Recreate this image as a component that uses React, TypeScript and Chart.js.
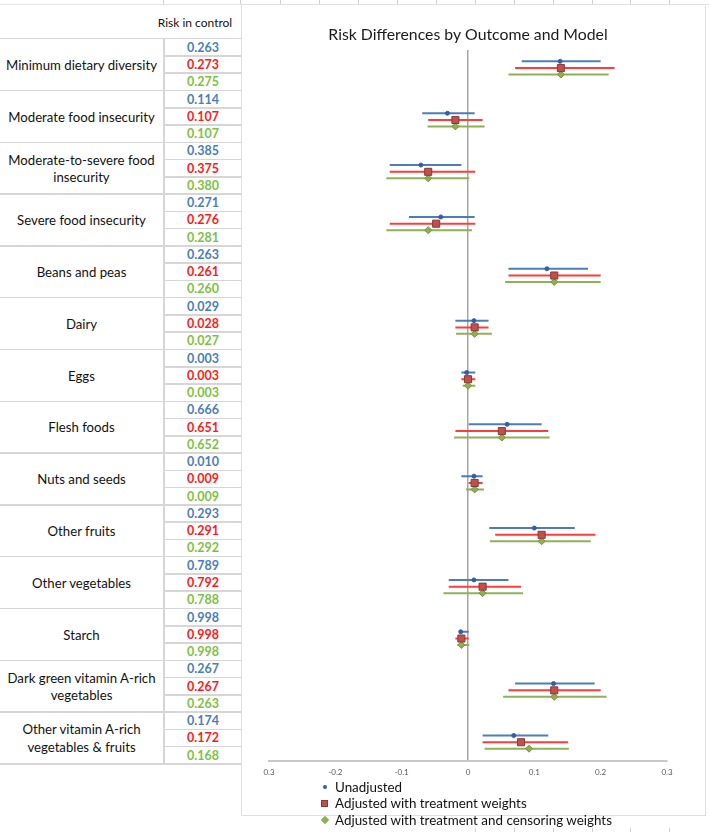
import React, { useEffect, useRef } from "react";
import { Chart, registerables } from "chart.js";

Chart.register(...registerables);

// ---------- data ----------
const outcomes = [
  "Minimum dietary diversity",
  "Moderate food insecurity",
  "Moderate-to-severe food\ninsecurity",
  "Severe food insecurity",
  "Beans and peas",
  "Dairy",
  "Eggs",
  "Flesh foods",
  "Nuts and seeds",
  "Other fruits",
  "Other vegetables",
  "Starch",
  "Dark green vitamin A-rich\nvegetables",
  "Other vitamin A-rich\nvegetables & fruits",
];

const seriesNames = [
  "Unadjusted",
  "Adjusted with treatment weights",
  "Adjusted with treatment and censoring weights",
];

// Risk in control (table)
const riskUnadjusted = [0.263, 0.114, 0.385, 0.271, 0.263, 0.029, 0.003, 0.666, 0.010, 0.293, 0.789, 0.998, 0.267, 0.174];
const riskTreatment = [0.273, 0.107, 0.375, 0.276, 0.261, 0.028, 0.003, 0.651, 0.009, 0.291, 0.792, 0.998, 0.267, 0.172];
const riskCensoring = [0.275, 0.107, 0.380, 0.281, 0.260, 0.027, 0.003, 0.652, 0.009, 0.292, 0.788, 0.998, 0.263, 0.168];

// Risk differences (estimate, lower, upper)
const unadjEst = [0.139, -0.031, -0.071, -0.041, 0.119, 0.009, -0.002, 0.059, 0.009, 0.100, 0.009, -0.011, 0.129, 0.069];
const unadjLo = [0.081, -0.069, -0.118, -0.089, 0.061, -0.019, -0.010, 0.001, -0.010, 0.032, -0.029, -0.013, 0.071, 0.022];
const unadjHi = [0.200, 0.010, -0.010, 0.010, 0.181, 0.031, 0.011, 0.111, 0.022, 0.161, 0.061, 0.001, 0.191, 0.121];

const trtEst = [0.140, -0.019, -0.060, -0.048, 0.130, 0.010, 0.000, 0.051, 0.010, 0.111, 0.022, -0.010, 0.130, 0.080];
const trtLo = [0.071, -0.060, -0.118, -0.118, 0.061, -0.019, -0.010, -0.019, 0.001, 0.041, -0.029, -0.019, 0.061, 0.022];
const trtHi = [0.221, 0.022, 0.011, 0.011, 0.200, 0.031, 0.011, 0.121, 0.022, 0.192, 0.080, 0.001, 0.200, 0.151];

const cenEst = [0.140, -0.019, -0.060, -0.060, 0.130, 0.010, 0.000, 0.051, 0.010, 0.111, 0.022, -0.010, 0.130, 0.092];
const cenLo = [0.061, -0.061, -0.123, -0.123, 0.056, -0.018, -0.008, -0.021, -0.003, 0.033, -0.037, -0.016, 0.053, 0.025];
const cenHi = [0.212, 0.025, 0.002, 0.006, 0.200, 0.036, 0.011, 0.123, 0.024, 0.185, 0.083, 0.002, 0.209, 0.152];

const tickLabels = ["0.3", "-0.2", "-0.1", "0", "0.1", "0.2", "0.3"];

// ---------- styling ----------
const FONT = "Lato, 'Open Sans', sans-serif";
const tableColors = ["#4a7ebb", "#ff1a1a", "#7cc242"];
const lineColors = ["#4a7ebb", "#ff3b3b", "#8db255"];
const markerFill = ["#2f5fa8", "#c0504d", "#8fb04e"];
const markerBorder = ["#2f5fa8", "#8c3836", "#76923c"];
const markerStyle = ["circle", "rect", "rectRot"];
const markerRadius = [2, 5, 3.5];
const rowOffsets = [-0.13, 0, 0.125];

const TABLE_TOP = 38.7;
const GROUP_H = 51.8;
const ROW_H = GROUP_H / 3;
const LABEL_W = 163;
const TABLE_R = 241;

function ForestChart() {
  const ref = useRef<HTMLCanvasElement | null>(null);
  useEffect(() => {
    if (!ref.current) return;
    const est = [unadjEst, trtEst, cenEst];
    const lo = [unadjLo, trtLo, cenLo];
    const hi = [unadjHi, trtHi, cenHi];
    const datasets: any[] = [];
    for (let s = 0; s < 3; s++) {
      datasets.push({
        type: "scatter",
        label: seriesNames[s],
        data: est[s].map((v, i) => ({ x: v, y: i + rowOffsets[s] })),
        pointStyle: markerStyle[s],
        pointRadius: markerRadius[s],
        backgroundColor: markerFill[s],
        borderColor: markerBorder[s],
        borderWidth: 1,
        order: 0,
      });
    }
    for (let s = 0; s < 3; s++) {
      for (let i = 0; i < outcomes.length; i++) {
        datasets.push({
          type: "line",
          label: "ci",
          data: [
            { x: lo[s][i], y: i + rowOffsets[s] },
            { x: hi[s][i], y: i + rowOffsets[s] },
          ],
          borderColor: lineColors[s],
          borderWidth: 2,
          pointRadius: 0,
          fill: false,
          order: 1,
        });
      }
    }
    const chart = new Chart(ref.current, {
      type: "scatter",
      data: { datasets },
      options: {
        animation: false,
        responsive: false,
        devicePixelRatio: 1,
        layout: { padding: { left: 28, right: 39, top: 0, bottom: 33 } },
        plugins: {
          legend: { display: false },
          tooltip: { enabled: false },
          title: {
            display: true,
            text: "Risk Differences by Outcome and Model",
            color: "#1a1a1a",
            font: { family: FONT, size: 15.8, weight: "normal" },
            padding: { top: 20, bottom: 6 },
          },
        },
        scales: {
          x: {
            type: "linear",
            min: -0.3,
            max: 0.3,
            ticks: {
              stepSize: 0.1,
              padding: 6,
              color: "#595959",
              font: { family: FONT, size: 8 },
              maxRotation: 0,
              autoSkip: false,
              callback: (_v: any, i: number) => tickLabels[i],
            },
            grid: {
              drawTicks: false,
              lineWidth: 1.5,
              color: (ctx: any) =>
                ctx.tick && Math.abs(ctx.tick.value) < 1e-9 ? "#a6a6a6" : "rgba(0,0,0,0)",
            },
            border: { display: true, color: "#c8c8c8", width: 2 },
          },
          y: {
            type: "linear",
            reverse: true,
            min: -0.35,
            max: 13.37,
            display: false,
          },
        },
      },
    } as any);
    return () => chart.destroy();
  }, []);
  return (
    <canvas
      ref={ref}
      width={465}
      height={811}
      style={{ position: "absolute", left: TABLE_R, top: 5, width: 465, height: 811 }}
    />
  );
}

function Table() {
  const els: any[] = [];
  const risks = [riskUnadjusted, riskTreatment, riskCensoring];
  els.push(
    <div
      key="hdr"
      style={{
        position: "absolute", left: 150, width: 90, top: 13, height: 20,
        textAlign: "center", fontSize: 12, fontFamily: FONT, color: "#111", lineHeight: "20px",
      }}
    >
      Risk in control
    </div>
  );
  for (let g = 0; g <= outcomes.length; g++) {
    els.push(
      <div key={"gs" + g} style={{ position: "absolute", left: 0, width: TABLE_R, top: TABLE_TOP + g * GROUP_H - 0.75, height: 1.5, background: "#d6d6d6" }} />
    );
  }
  els.push(
    <div key="vd" style={{ position: "absolute", left: LABEL_W, width: 1.5, top: TABLE_TOP, height: outcomes.length * GROUP_H, background: "#d6d6d6" }} />
  );
  outcomes.forEach((name, g) => {
    const top = TABLE_TOP + g * GROUP_H;
    const lines = name.split("\n");
    els.push(
      <div
        key={"lab" + g}
        style={{
          position: "absolute", left: 0, width: LABEL_W, top: top + 1, height: GROUP_H,
          display: "flex", flexDirection: "column", justifyContent: "center", alignItems: "center",
          fontFamily: FONT, fontSize: 13.2, color: "#111", lineHeight: "17.5px", textAlign: "center",
        }}
      >
        {lines.map((l, k) => (<div key={k}>{l}</div>))}
      </div>
    );
    for (let r = 0; r < 3; r++) {
      if (r > 0) {
        els.push(
          <div key={"rs" + g + "_" + r} style={{ position: "absolute", left: LABEL_W, width: TABLE_R - LABEL_W, top: top + r * ROW_H - 0.75, height: 1.5, background: "#d6d6d6" }} />
        );
      }
      els.push(
        <div
          key={"v" + g + "_" + r}
          style={{
            position: "absolute", left: LABEL_W, width: TABLE_R - LABEL_W + 2, top: top + r * ROW_H, height: ROW_H,
            lineHeight: ROW_H + "px", textAlign: "center", fontFamily: FONT, fontSize: 12.5,
            fontWeight: "bold", color: tableColors[r],
          }}
        >
          {risks[r][g].toFixed(3)}
        </div>
      );
    }
  });
  return <>{els}</>;
}

function Legend() {
  const ys = [786.7, 803.3, 819.5];
  const marker = (s: number) => {
    if (s === 0) return <div style={{ width: 4, height: 4, borderRadius: 2, background: markerFill[0], marginLeft: 2 }} />;
    if (s === 1) return <div style={{ width: 7, height: 7, background: markerFill[1], border: "1px solid " + markerBorder[1], boxSizing: "border-box" }} />;
    return <div style={{ width: 6, height: 6, background: markerFill[2], transform: "rotate(45deg)", marginLeft: 1 }} />;
  };
  return (
    <>
      {seriesNames.map((n, s) => (
        <div
          key={n}
          style={{
            position: "absolute", left: 321, top: ys[s] - 9, height: 18, display: "flex", alignItems: "center",
            fontFamily: FONT, fontSize: 13.4, color: "#111", whiteSpace: "nowrap",
          }}
        >
          <div style={{ width: 14, display: "flex", alignItems: "center" }}>{marker(s)}</div>
          <span>{n}</span>
        </div>
      ))}
    </>
  );
}

function Decor() {
  const topTicks = [163, 240, 280, 319, 358, 397, 436, 475, 514, 553, 592, 630, 669];
  const bottomTicks = [475, 514, 553, 592, 630, 669];
  return (
    <>
      <div style={{ position: "absolute", left: 0, width: 709, top: 4, height: 1, background: "#e3e3e3" }} />
      {topTicks.map((x) => (
        <div key={"t" + x} style={{ position: "absolute", left: x, width: 1, top: 0, height: 4, background: "#d0d0d0" }} />
      ))}
      {bottomTicks.map((x) => (
        <div key={"b" + x} style={{ position: "absolute", left: x, width: 1, top: 828, height: 4, background: "#d0d0d0" }} />
      ))}
      <div style={{ position: "absolute", left: TABLE_R, top: 4, width: 706 - TABLE_R, height: 812, border: "1px solid #e0e0e0", boxSizing: "border-box" }} />
    </>
  );
}

export default function App() {
  return (
    <div style={{ position: "absolute", left: 0, top: 0, width: 709, height: 834, background: "#fff", overflow: "hidden" }}>
      <Decor />
      <Table />
      <ForestChart />
      <Legend />
    </div>
  );
}
